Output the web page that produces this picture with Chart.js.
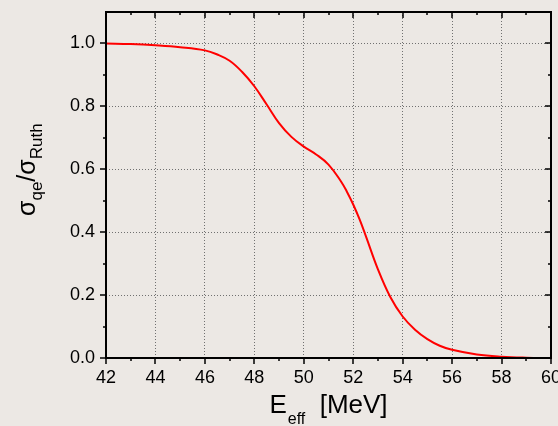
<!DOCTYPE html>
<html>
<head>
<meta charset="utf-8">
<script src="https://cdn.jsdelivr.net/npm/chart.js@4.4.1/dist/chart.umd.min.js"></script>
<style>
  html, body { margin: 0; padding: 0; background: #ece8e4; }
  canvas { display: block; }
</style>
</head>
<body>
<canvas id="c" width="558" height="426"></canvas>
<script>
// ---- data ----
const energies = [42, 43, 44, 45, 46, 46.5, 47, 47.5, 48, 48.5, 49, 49.5, 50, 50.5, 51, 51.5, 51.75, 52, 52.25, 52.5, 53, 53.5, 54, 54.5, 55, 55.5, 56, 57, 58, 59, 60];
const ratio    = [1.0, 0.998, 0.994, 0.988, 0.978, 0.965, 0.945, 0.91, 0.864, 0.806, 0.747, 0.703, 0.672, 0.647, 0.615, 0.562, 0.528, 0.488, 0.442, 0.39, 0.282, 0.194, 0.132, 0.09, 0.06, 0.039, 0.026, 0.011, 0.004, 0.001, 0.0];
const xTicks = [42, 44, 46, 48, 50, 52, 54, 56, 58, 60];
const xTickLabels = ['42', '44', '46', '48', '50', '52', '54', '56', '58', '60'];
const xMinor = [43, 45, 47, 49, 51, 53, 55, 57, 59];
const yTicks = [0, 0.2, 0.4, 0.6, 0.8, 1.0];
const yTickLabels = ['0.0', '0.2', '0.4', '0.6', '0.8', '1.0'];
const yMinor = [0.1, 0.3, 0.5, 0.7, 0.9];

const FONT = "'Liberation Sans', Arial, Helvetica, sans-serif";

const framePlugin = {
  id: 'frame',
  afterDraw(chart) {
    const ctx = chart.ctx;
    const a = chart.chartArea;
    const xs = chart.scales.x, ys = chart.scales.y;
    ctx.save();
    ctx.strokeStyle = '#000';
    ctx.lineWidth = 2;
    ctx.strokeRect(a.left, a.top, a.right - a.left, a.bottom - a.top);
    ctx.lineWidth = 1.5;
    ctx.beginPath();
    const vt = (v, len) => {
      const p = Math.round(xs.getPixelForValue(v));
      ctx.moveTo(p, a.bottom); ctx.lineTo(p, a.bottom + len);
      ctx.moveTo(p, a.top); ctx.lineTo(p, a.top + len);
    };
    const ht = (v, len) => {
      const p = Math.round(ys.getPixelForValue(v));
      ctx.moveTo(a.left, p); ctx.lineTo(a.left - len, p);
      ctx.moveTo(a.right, p); ctx.lineTo(a.right - len, p);
    };
    xTicks.forEach(v => vt(v, 6));
    xMinor.forEach(v => vt(v, 3));
    yTicks.forEach(v => ht(v, 6));
    yMinor.forEach(v => ht(v, 3));
    ctx.stroke();

    // x-axis title: E_eff  [MeV]
    ctx.fillStyle = '#000';
    ctx.textBaseline = 'alphabetic';
    ctx.textAlign = 'left';
    const big = '26px ' + FONT, small = '16px ' + FONT;
    ctx.font = big; const wE = ctx.measureText('E').width;
    ctx.font = small; const wSub = ctx.measureText('eff').width;
    ctx.font = big; const wRest = ctx.measureText('  [MeV]').width;
    const total = wE + 1 + wSub + wRest;
    let x0 = (a.left + a.right) / 2 - total / 2;
    const base = 413;
    ctx.font = big; ctx.fillText('E', x0, base);
    ctx.font = small; ctx.fillText('eff', x0 + wE + 1, base + 11);
    ctx.font = big; ctx.fillText('  [MeV]', x0 + wE + 1 + wSub, base);

    // y-axis title: sigma_qe / sigma_Ruth (rotated)
    const yb = 35, ystart = 216;
    ctx.translate(yb, ystart);
    ctx.rotate(-Math.PI / 2);
    const yBig = '25px ' + FONT, ySmall = '17px ' + FONT;
    let px = 0;
    ctx.font = yBig; ctx.fillText('σ', px, 0); px += ctx.measureText('σ').width;
    ctx.font = ySmall; ctx.fillText('qe', px, 7); px += ctx.measureText('qe').width;
    ctx.font = yBig; ctx.fillText('/', px, 0); px += ctx.measureText('/').width;
    ctx.fillText('σ', px, 0); px += ctx.measureText('σ').width;
    ctx.font = ySmall; ctx.fillText('Ruth', px, 7);
    ctx.restore();
  }
};

const gridColor = (edgeVals) => (c) => {
  const v = c.tick ? c.tick.value : null;
  return edgeVals.includes(v) ? 'rgba(0,0,0,0)' : '#707070';
};

new Chart(document.getElementById('c'), {
  type: 'line',
  data: {
    datasets: [{
      data: energies.map((e, i) => ({ x: e, y: ratio[i] })),
      borderColor: '#ff0000',
      borderWidth: 2,
      pointRadius: 0,
      fill: false,
      tension: 0.4,
      clip: false
    }]
  },
  options: {
    responsive: false,
    devicePixelRatio: 1,
    animation: false,
    layout: { padding: { top: 12, right: 7, left: 0, bottom: 0 } },
    plugins: { legend: { display: false }, tooltip: { enabled: false } },
    scales: {
      x: {
        type: 'linear',
        min: 42, max: 60,
        afterBuildTicks: s => { s.ticks = xTicks.map(v => ({ value: v })); },
        afterFit: s => { s.height = 68; s.paddingLeft = 0; s.paddingRight = 0; },
        ticks: {
          padding: 9,
          color: '#000',
          font: { family: FONT, size: 18 },
          callback: (v) => { const i = xTicks.indexOf(v); return i >= 0 ? xTickLabels[i] : ''; },
          maxRotation: 0, autoSkip: false
        },
        grid: { color: gridColor([42, 60]), lineWidth: 1, drawTicks: false },
        border: { display: false, dash: [1, 2] }
      },
      y: {
        type: 'linear',
        min: 0, max: 1.1,
        afterBuildTicks: s => { s.ticks = yTicks.map(v => ({ value: v })); },
        afterFit: s => { s.width = 106; s.paddingTop = 0; s.paddingBottom = 0; },
        ticks: {
          padding: 11,
          color: '#000',
          font: { family: FONT, size: 18 },
          callback: (v) => { const i = yTicks.findIndex(t => Math.abs(t - v) < 1e-9); return i >= 0 ? yTickLabels[i] : ''; }
        },
        grid: { color: gridColor([0]), lineWidth: 1, drawTicks: false },
        border: { display: false, dash: [1, 2] }
      }
    }
  },
  plugins: [framePlugin]
});
</script>
</body>
</html>
